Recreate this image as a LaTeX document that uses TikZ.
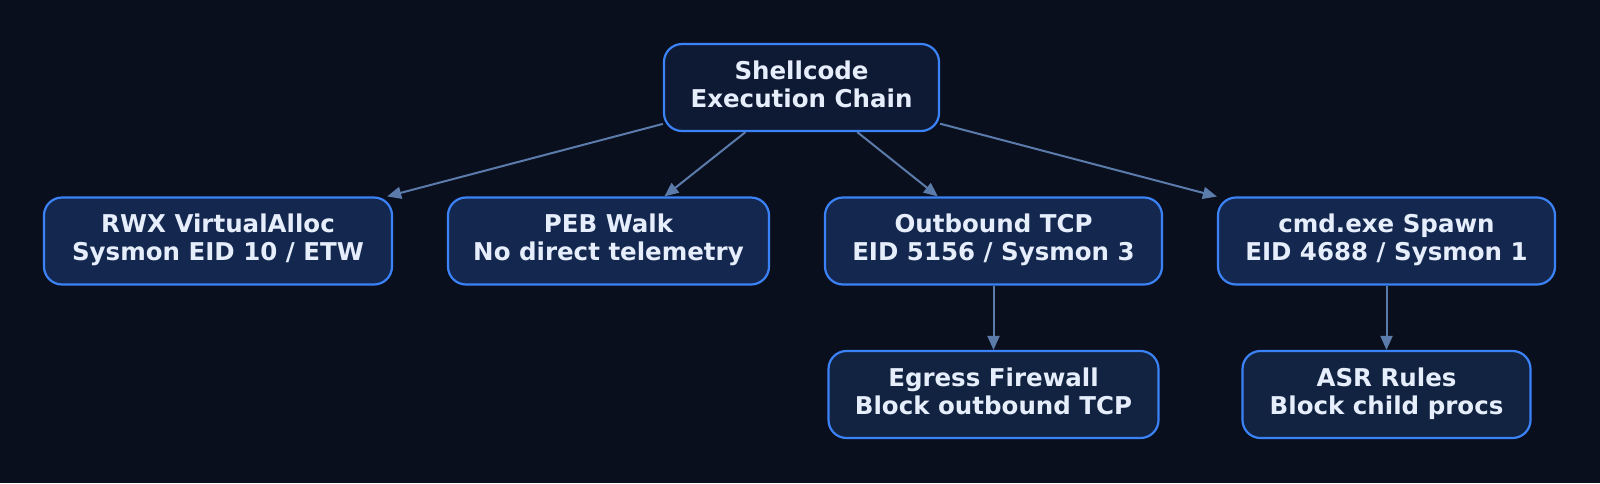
\documentclass[tikz,border=0pt]{standalone}
\usepackage{fontspec}
\setmainfont{DejaVu Sans}
\usetikzlibrary{arrows.meta}
\definecolor{bgc}{HTML}{0A0F1E}
\definecolor{rootfill}{HTML}{0E1A33}
\definecolor{midfill}{HTML}{14284F}
\definecolor{leaffill}{HTML}{112340}
\definecolor{bordc}{HTML}{3B82F6}
\definecolor{edgec}{HTML}{5B7BAB}
\definecolor{txtc}{HTML}{E6EEFC}
\tikzset{
  box/.style={draw=bordc, line width=2.2pt, rounded corners=18pt, text=txtc,
    font=\bfseries\fontsize{24.5}{28}\selectfont, align=center, minimum height=87pt,
    inner sep=0pt, text depth=7pt},
  rootbox/.style={box, fill=rootfill},
  midbox/.style={box, fill=midfill},
  leafbox/.style={box, fill=leaffill},
  conn/.style={draw=edgec, line width=2pt, -{Triangle[length=14pt,width=12pt]}}
}
\begin{document}
\begin{tikzpicture}[x=1pt,y=-1pt]
\fill[bgc] (0,0) rectangle (1600,483);
\useasboundingbox (0,0) rectangle (1600,483);
\node[rootbox, minimum width=275pt] (root) at (801.5,87.5) {Shellcode\\Execution Chain};
\node[midbox, minimum width=348pt] (rwx) at (218,241) {RWX VirtualAlloc\\Sysmon EID 10 / ETW};
\node[midbox, minimum width=321pt] (peb) at (608.5,241) {PEB Walk\\No direct telemetry};
\node[midbox, minimum width=337pt] (tcp) at (993.5,241) {Outbound TCP\\EID 5156 / Sysmon 3};
\node[midbox, minimum width=337pt] (cmd) at (1386.5,241) {cmd.exe Spawn\\EID 4688 / Sysmon 1};
\node[leafbox, minimum width=330pt] (egress) at (993.5,394.5) {Egress Firewall\\Block outbound TCP};
\node[leafbox, minimum width=288pt] (asr) at (1386.5,394.5) {ASR Rules\\Block child procs};
\draw[conn] (root) -- (rwx);
\draw[conn] (root) -- (peb);
\draw[conn] (root) -- (tcp);
\draw[conn] (root) -- (cmd);
\draw[conn] (tcp) -- (egress);
\draw[conn] (cmd) -- (asr);
\end{tikzpicture}
\end{document}
